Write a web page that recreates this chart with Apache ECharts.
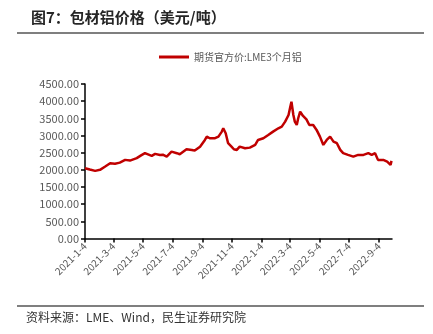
<!DOCTYPE html>
<html>
<head>
<meta charset="utf-8">
<script src="https://cdn.jsdelivr.net/npm/echarts@6/dist/echarts.min.js"></script>
<style>html,body{margin:0;padding:0;background:#fff}#c{width:433px;height:334px}</style>
</head>
<body>
<div id="c"></div>
<script>
var seriesName = '期货官方价:LME3个月铝';
var dates = ['2021-01-04','2021-01-14','2021-01-25','2021-02-04','2021-02-14','2021-02-25','2021-03-07','2021-03-17','2021-03-28','2021-04-07','2021-04-21','2021-04-30','2021-05-08','2021-05-12','2021-05-22','2021-05-29','2021-06-08','2021-06-14','2021-06-22','2021-07-02','2021-07-13','2021-07-19','2021-08-02','2021-08-13','2021-08-19','2021-08-30','2021-09-09','2021-09-13','2021-09-19','2021-09-30','2021-10-07','2021-10-14','2021-10-17','2021-10-22','2021-10-27','2021-11-03','2021-11-08','2021-11-14','2021-11-20','2021-12-01','2021-12-11','2021-12-22','2021-12-28','2022-01-08','2022-01-18','2022-01-28','2022-02-08','2022-02-15','2022-02-22','2022-03-01','2022-03-04','2022-03-07','2022-03-11','2022-03-14','2022-03-18','2022-03-21','2022-03-25','2022-03-31','2022-04-07','2022-04-13','2022-04-21','2022-04-28','2022-05-05','2022-05-12','2022-05-19','2022-05-26','2022-06-02','2022-06-09','2022-06-16','2022-06-22','2022-07-02','2022-07-13','2022-07-23','2022-08-03','2022-08-13','2022-08-20','2022-08-27','2022-09-02','2022-09-13','2022-09-21','2022-09-28','2022-09-30'];
var values = [2048,2010,1970,2000,2090,2190,2180,2210,2290,2270,2340,2420,2485,2530,2405,2465,2430,2440,2385,2530,2485,2455,2600,2580,2560,2675,2870,2967,2920,2920,2967,3113,3210,3066,2775,2676,2600,2580,2676,2630,2647,2726,2870,2920,3016,3113,3210,3258,3404,3598,3793,3985,3598,3404,3307,3502,3694,3570,3470,3307,3307,3162,2967,2726,2870,2967,2822,2775,2580,2485,2435,2385,2435,2435,2485,2435,2485,2290,2290,2240,2144,2260];
var tickDates = ['2021-1-4','2021-3-4','2021-5-4','2021-7-4','2021-9-4','2021-11-4','2022-1-4','2022-3-4','2022-5-4','2022-7-4','2022-9-4'];
var yMin = 0, yMax = 4500, yStep = 500;

function toTs(s){var p=s.split('-');return Date.UTC(+p[0],+p[1]-1,+p[2]);}
var tickTs = tickDates.map(toTs);
var data = dates.map(function(d,i){return [toTs(d), values[i]];});
var font = 'Noto Sans CJK SC';

var chart = echarts.init(document.getElementById('c'));
chart.setOption({
  animation:false,
  textStyle:{fontFamily:font},
  title:{text:'图7：包材铝价格（美元/吨）',left:26,top:5,textStyle:{fontSize:15,fontWeight:'bold',color:'#262626',fontFamily:font}},
  legend:{top:47,left:154,itemWidth:30,itemHeight:3,icon:'rect',itemGap:5,
    textStyle:{fontSize:10,color:'#595959',fontFamily:font},data:[seriesName]},
  grid:{left:85,right:41,top:84,bottom:95.5},
  xAxis:{type:'value',min:toTs('2021-1-4'),max:toTs('2022-10-1'),
    axisLine:{lineStyle:{color:'#000',width:1.5}},
    axisTick:{show:true,length:4,lineStyle:{color:'#000',width:1.5},customValues:tickTs},
    axisLabel:{customValues:tickTs,rotate:45,fontSize:10,color:'#595959',margin:6,fontFamily:font,
      formatter:function(v){var d=new Date(v);return d.getUTCFullYear()+'-'+(d.getUTCMonth()+1)+'-'+d.getUTCDate();}},
    splitLine:{show:false}},
  yAxis:{type:'value',min:yMin,max:yMax,interval:yStep,
    axisLine:{show:true,lineStyle:{color:'#000',width:1.5}},
    axisTick:{show:true,length:4,lineStyle:{color:'#000',width:1.5}},
    axisLabel:{fontSize:11,color:'#595959',margin:6,fontFamily:font,formatter:function(v){return v.toFixed(2);}},
    splitLine:{show:false}},
  series:[{name:seriesName,type:'line',data:data,showSymbol:false,symbol:'none',
    lineStyle:{color:'#C00000',width:2.5},itemStyle:{color:'#C00000'}}],
  graphic:[
    {type:'rect',shape:{x:17,y:32,width:407,height:2},style:{fill:'#7f7f7f'}},
    {type:'rect',shape:{x:17,y:305,width:407,height:2},style:{fill:'#7f7f7f'}},
    {type:'text',left:26,top:311,style:{text:'资料来源：LME、Wind，民生证券研究院',fontSize:12,fill:'#333',fontFamily:font}}
  ]
});
</script>
</body>
</html>
